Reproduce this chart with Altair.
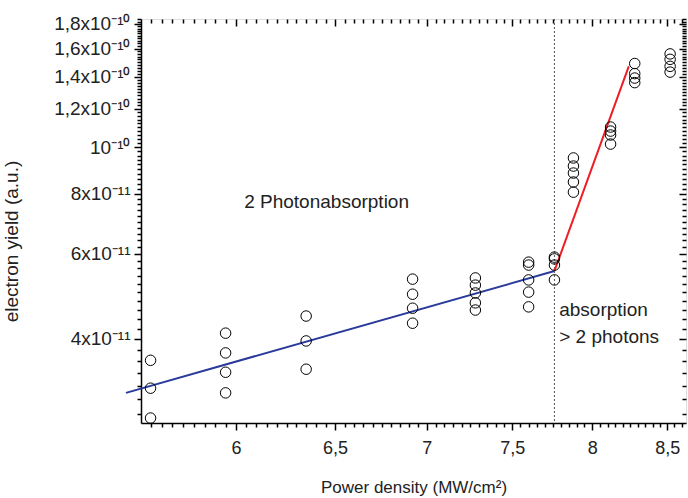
import altair as alt
import pandas as pd
import numpy as np

# ---- data ----
px = [5.60, 5.60, 5.60,
      5.95, 5.95, 5.95, 5.95,
      6.35, 6.35, 6.35,
      6.92, 6.92, 6.92, 6.92,
      7.28, 7.28, 7.28, 7.28, 7.28,
      7.60, 7.60, 7.60, 7.60, 7.60,
      7.76, 7.76, 7.76, 7.76,
      7.88, 7.88, 7.88, 7.88, 7.88,
      8.12, 8.12, 8.12, 8.12,
      8.28, 8.28, 8.28, 8.28,
      8.52, 8.52, 8.52, 8.52]
py = [3.61e-11, 3.16e-11, 2.74e-11,
      4.11e-11, 3.74e-11, 3.41e-11, 3.09e-11,
      4.46e-11, 3.96e-11, 3.46e-11,
      5.32e-11, 4.95e-11, 4.63e-11, 4.31e-11,
      5.35e-11, 5.17e-11, 4.98e-11, 4.75e-11, 4.59e-11,
      5.77e-11, 5.69e-11, 5.30e-11, 5.00e-11, 4.66e-11,
      5.91e-11, 5.86e-11, 5.69e-11, 5.30e-11,
      9.49e-11, 9.13e-11, 8.83e-11, 8.46e-11, 8.06e-11,
      1.100e-10, 1.079e-10, 1.059e-10, 1.014e-10,
      1.49e-10, 1.42e-10, 1.39e-10, 1.36e-10,
      1.56e-10, 1.52e-10, 1.47e-10, 1.43e-10]

blue_x = [5.49, 7.76]
blue_y = [3.09e-11, 5.53e-11]
red_x = [7.76, 8.24]
red_y = [5.53e-11, 1.47e-10]
threshold_x = [7.76]

ann_text = ["2 Photonabsorption", "absorption", "> 2 photons"]
ann_x = [6.04, 7.79, 7.79]
ann_y = [7.69e-11, 4.59e-11, 4.03e-11]

x_major = [6, 6.5, 7, 7.5, 8, 8.5]
y_major = [4e-11, 6e-11, 8e-11, 1e-10, 1.2e-10, 1.4e-10, 1.6e-10, 1.8e-10]
y_labels = ["4x10⁻¹¹", "6x10⁻¹¹", "8x10⁻¹¹", "10⁻¹⁰",
            "1,2x10⁻¹⁰", "1,4x10⁻¹⁰", "1,6x10⁻¹⁰", "1,8x10⁻¹⁰"]

x_domain = [5.557, 8.63]
y_domain = [2.676e-11, 1.843e-10]

# minor tick positions (axis decoration)
x_minor = [round(5.6 + 0.05 * k, 4) for k in range(61)]
x_minor = [v for v in x_minor if v <= x_domain[1] and all(abs(v - m) > 1e-6 for m in x_major)]
y_minor = [float(f"{(28 + 2 * k) * 1e-12:.4g}") for k in range(80)]
y_minor = [v for v in y_minor if v <= y_domain[1] and all(abs(v - m) > 1e-15 for m in y_major)]

W, H = 545, 404
FONT = "Liberation Sans"

pts = pd.DataFrame({"x": px, "y": py})
lines = pd.DataFrame({
    "x": blue_x + red_x,
    "y": blue_y + red_y,
    "seg": ["blue"] * len(blue_x) + ["red"] * len(red_x),
})
ann = pd.DataFrame({"t": ann_text, "x": ann_x, "y": ann_y})
thr = pd.DataFrame({"x": threshold_x})

xmaj_js = "[" + ",".join(repr(float(v)) for v in x_major) + "]"
ymaj_js = "[" + ",".join(repr(float(v)) for v in y_major) + "]"
ylab_js = "[" + ",".join("'" + s + "'" for s in y_labels) + "]"

x_is_major = f"indexof({xmaj_js}, datum.value) >= 0"
y_is_major = f"indexof({ymaj_js}, datum.value) >= 0"

xscale = alt.Scale(type="log", domain=x_domain, nice=False)
yscale = alt.Scale(type="log", domain=y_domain, nice=False)

x_ticks = [float(v) for v in x_major] + x_minor
y_ticks = [float(v) for v in y_major] + y_minor

x_axis_main = alt.Axis(
    orient="bottom", values=x_ticks, grid=False,
    labelExpr=f"{x_is_major} ? replace(format(datum.value, '.1~f'), '.', ',') : ''",
    tickSize={"condition": {"test": x_is_major, "value": 7}, "value": 4},
    tickColor="black", tickWidth=1.5, domainColor="black", domainWidth=1.5,
    labelFont=FONT, labelFontSize=18, labelColor="#222222", labelPadding=9,
    labelOverlap=False, labelFlush=False, labelBound=False,
    title="Power density (MW/cm²)", titleFont=FONT, titleFontSize=17,
    titleFontWeight="normal", titleColor="#222222", titlePadding=22,
)
y_axis_main = alt.Axis(
    orient="left", values=y_ticks, grid=False,
    labelExpr=f"{y_is_major} ? {ylab_js}[indexof({ymaj_js}, datum.value)] : ''",
    tickSize={"condition": {"test": y_is_major, "value": 7}, "value": 4},
    tickColor="black", tickWidth=1.5, domainColor="black", domainWidth=1.5,
    labelFont=FONT, labelFontSize=19, labelColor="#222222", labelPadding=4,
    labelOverlap=False, labelFlush=False, labelBound=False,
    title="electron yield (a.u.)", titleFont=FONT, titleFontSize=19,
    titleFontWeight="normal", titleColor="#222222", titleX=-120, titleY=H / 2 + 20,
)
x_axis_top = alt.Axis(
    orient="bottom", offset=-H, values=x_ticks, grid=False, labels=False,
    domain=False, title=None,
    tickSize={"condition": {"test": x_is_major, "value": 7}, "value": 4},
    tickColor="black", tickWidth=1.5,
)
y_axis_right = alt.Axis(
    orient="left", offset=-W, values=y_ticks, grid=False, labels=False,
    domain=False, title=None,
    tickSize={"condition": {"test": y_is_major, "value": 7}, "value": 4},
    tickColor="black", tickWidth=1.5,
)

points = alt.Chart(pts).mark_point(
    shape="circle", filled=False, size=110, stroke="black", strokeWidth=1, opacity=1
).encode(
    x=alt.X("x:Q", scale=xscale, axis=x_axis_main),
    y=alt.Y("y:Q", scale=yscale, axis=y_axis_main),
)

seg_lines = alt.Chart(lines).mark_line(strokeWidth=2, clip=False).encode(
    x=alt.X("x:Q", scale=xscale, axis=x_axis_top),
    y=alt.Y("y:Q", scale=yscale, axis=y_axis_right),
    color=alt.Color("seg:N", scale=alt.Scale(domain=["blue", "red"], range=["#2A3A9A", "#EE1C25"]), legend=None),
    detail="seg:N",
)

thr_rule = alt.Chart(thr).mark_rule(color="#555555", strokeWidth=1, strokeDash=[2, 2]).encode(
    x=alt.X("x:Q", scale=xscale, axis=None),
)

texts = alt.Chart(ann).mark_text(
    align="left", baseline="middle", font=FONT, fontSize=19, color="#222222"
).encode(
    x=alt.X("x:Q", scale=xscale, axis=None),
    y=alt.Y("y:Q", scale=yscale, axis=None),
    text="t:N",
)

chart = alt.layer(thr_rule, seg_lines, points, texts).resolve_axis(
    x="independent", y="independent"
).properties(
    width=W, height=H,
    autosize=alt.AutoSizeParams(type="none"),
    padding={"left": 141, "top": 19, "right": 2, "bottom": 75},
).configure_view(
    stroke="black", strokeWidth=1.5
).configure(background="white")

chart.save("out.html", embed_options={"renderer": "svg", "actions": False})
